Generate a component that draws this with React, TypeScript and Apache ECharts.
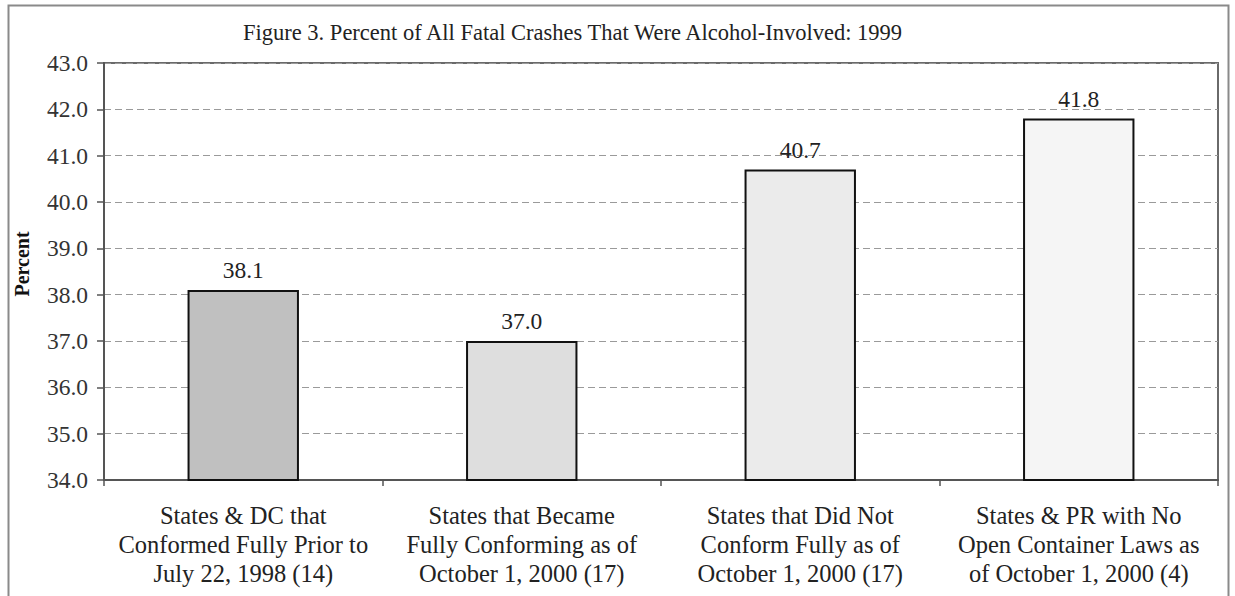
import React, { useEffect, useRef } from "react";
import * as echarts from "echarts";

const titleText = "Figure 3. Percent of All Fatal Crashes That Were Alcohol-Involved: 1999";
const categories = [
  "States & DC that\nConformed Fully Prior to\nJuly 22, 1998 (14)",
  "States that Became\nFully Conforming as of\nOctober 1, 2000 (17)",
  "States that Did Not\nConform Fully as of\nOctober 1, 2000 (17)",
  "States & PR with No\nOpen Container Laws as\nof October 1, 2000 (4)",
];
const values = [38.1, 37.0, 40.7, 41.8];
const barColors = ["#c0c0c0", "#dedede", "#ebebeb", "#f5f5f5"];
const yAxisName = "Percent";
const yMin = 34;
const yMax = 43;
const yStep = 1;

const FONT = "Liberation Serif";

export default function App() {
  const ref = useRef<HTMLDivElement>(null);
  useEffect(() => {
    if (!ref.current) return;
    const chart = echarts.init(ref.current, null, { renderer: "svg" });
    chart.setOption({
      animation: false,
      backgroundColor: "#ffffff",
      textStyle: { fontFamily: FONT },
      title: {
        text: titleText,
        left: 238,
        top: 16,
        textStyle: { fontFamily: FONT, fontSize: 22.5, fontWeight: "normal", color: "#222" },
      },
      graphic: [
        {
          type: "rect",
          shape: { x: 8.5, y: 5.5, width: 1220, height: 600 },
          style: { fill: "none", stroke: "#8a8a8a", lineWidth: 2 },
          silent: true,
        },
        {
          type: "text",
          x: 22,
          y: 264,
          rotation: Math.PI / 2,
          style: {
            text: yAxisName,
            font: "bold 20px 'Liberation Serif'",
            fill: "#111",
            align: "center",
            verticalAlign: "middle",
          },
        },
      ],
      grid: {
        left: 104,
        right: 17,
        top: 63,
        bottom: 116,
        show: true,
        borderColor: "#6a6a6a",
        borderWidth: 2,
        backgroundColor: "transparent",
      },
      xAxis: {
        type: "category",
        data: categories,
        axisLine: { lineStyle: { color: "#555", width: 2 } },
        axisTick: { show: true, length: 6, lineStyle: { color: "#555", width: 1.5 } },
        axisLabel: {
          interval: 0,
          fontFamily: FONT,
          fontWeight: "normal",
          fontSize: 24.5,
          lineHeight: 29,
          color: "#222",
          margin: 21,
          align: "center",
        },
      },
      yAxis: {
        type: "value",
        min: yMin,
        max: yMax,
        interval: yStep,
        axisLine: { show: true, lineStyle: { color: "#555", width: 2 } },
        axisTick: { show: true, length: 7, lineStyle: { color: "#555", width: 1.5 } },
        axisLabel: {
          fontFamily: FONT,
          fontWeight: "normal",
          fontSize: 23.5,
          color: "#333",
          margin: 16,
          formatter: (v: number) => v.toFixed(1),
        },
        splitLine: { show: true, lineStyle: { color: "#9a9a9a", type: [7, 4], width: 1 } },
      },
      series: [
        {
          type: "bar",
          barWidth: "40%",
          data: values.map((v, i) => ({
            value: v,
            itemStyle: { color: barColors[i], borderColor: "#111", borderWidth: 2 },
          })),
          label: {
            show: true,
            position: "top",
            distance: 8,
            fontFamily: FONT,
            fontSize: 23.5,
            color: "#222",
            formatter: (p: any) => Number(p.value).toFixed(1),
          },
        },
      ],
    });
    return () => chart.dispose();
  }, []);
  return (
    <div
      ref={ref}
      style={{ position: "fixed", left: 0, top: 0, width: 1235, height: 596 }}
    />
  );
}
